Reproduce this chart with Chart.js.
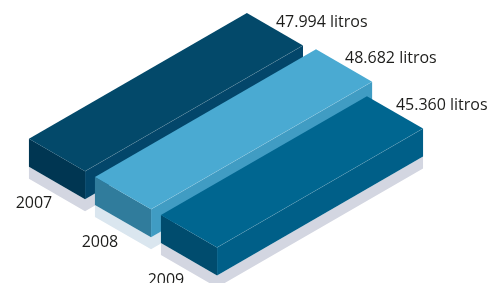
<!DOCTYPE html>
<html>
<head>
<meta charset="utf-8">
<script src="https://cdn.jsdelivr.net/npm/chart.js@4"></script>
<style>
  html, body { margin: 0; padding: 0; background: #fff; }
  #wrap { width: 495px; height: 283px; position: relative; }
</style>
</head>
<body>
<div id="wrap"><canvas id="barChart"></canvas></div>
<script>
const YEARS = ['2007', '2008', '2009']
const LITROS = [47994, 48682, 45360]
const UNIT = 'litros'

// top, end face, long side, shadow
const FACES = [
    ['#03496a', '#003652', '#03466a', '#d3d6e1'],
    ['#4aaad2', '#307c9c', '#409cc3', '#dae6ef'],
    ['#006690', '#004c6e', '#005f88', '#d3d6e1']
]
const T = Math.tan(Math.PI / 6)
const ORIGIN = { x: 24, y: 136 }
const DEPTH = 28
const SHADOW = 12

function fmt(v){
    return String(v).replace(/\B(?=(\d{3})+(?!\d))/g, '.')
}

// flat chart pixels -> isometric screen
function iso(area, px, py){
    var u = px - area.left
    var v = py - area.top
    return { x: ORIGIN.x + u + v, y: ORIGIN.y - u * T + v * T }
}

function poly(ctx, pts, color){
    ctx.beginPath()
    ctx.moveTo(pts[0].x, pts[0].y)
    for (var i = 1; i < pts.length; i++) ctx.lineTo(pts[i].x, pts[i].y)
    ctx.closePath()
    ctx.fillStyle = color
    ctx.fill()
}

function down(p, d){
    return { x: p.x, y: p.y + d }
}

var isoBars = {
    id: 'isoBars',
    afterDatasetsDraw(chart){
        var ctx = chart.ctx
        var area = chart.chartArea
        var meta = chart.getDatasetMeta(0)
        var corners = []
        ctx.save()
        meta.data.forEach(function(bar, i){
            var p = bar.getProps(['x', 'y', 'base', 'height'], true)
            var top = p.y - p.height / 2
            var bot = p.y + p.height / 2
            var A = iso(area, p.base, top)
            var B = iso(area, p.base, bot)
            var C = iso(area, p.x, bot)
            var D = iso(area, p.x, top)
            var c = FACES[i]
            var A1 = down(A, DEPTH), B1 = down(B, DEPTH), C1 = down(C, DEPTH)
            poly(ctx, [A1, B1, C1, down(C1, SHADOW), down(B1, SHADOW), down(A1, SHADOW)], c[3])
            poly(ctx, [A, B, B1, A1], c[1])
            poly(ctx, [B, C, C1, B1], c[2])
            poly(ctx, [A, B, C, D], c[0])
            ctx.beginPath()
            ctx.moveTo(B.x, B.y)
            ctx.lineTo(C.x, C.y)
            ctx.strokeStyle = 'rgba(255,255,255,0.18)'
            ctx.lineWidth = 0.6
            ctx.stroke()
            corners.push({ A: A, D: D })
        })
        ctx.fillStyle = '#1d1d1b'
        ctx.font = '16px "Open Sans", sans-serif'
        ctx.textBaseline = 'middle'
        corners.forEach(function(k, i){
            ctx.textAlign = 'left'
            ctx.fillText(fmt(LITROS[i]) + ' ' + UNIT, k.D.x + 29, k.D.y + 9)
            ctx.textAlign = 'center'
            ctx.fillText(YEARS[i], k.A.x + 5, k.A.y + 65)
        })
        ctx.restore()
    }
}

var barChart = new Chart(document.getElementById('barChart'), {
    type: 'bar',
    data: {
        labels: YEARS,
        datasets: [{
            data: LITROS,
            backgroundColor: 'rgba(0,0,0,0)',
            borderWidth: 0,
            categoryPercentage: 1,
            barPercentage: 0.85
        }]
    },
    options: {
        indexAxis: 'y',
        responsive: true,
        maintainAspectRatio: false,
        animation: false,
        layout: { padding: { top: 0, bottom: 85, left: 0, right: 0 } },
        scales: {
            x: { type: 'linear', min: 0, max: 109000, display: false },
            y: { display: false }
        },
        plugins: {
            legend: { display: false },
            tooltip: { enabled: false }
        }
    },
    plugins: [isoBars]
})
</script>
</body>
</html>
